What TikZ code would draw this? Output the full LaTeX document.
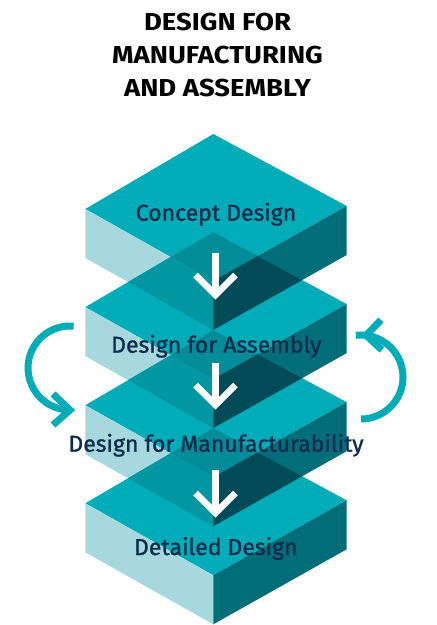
\documentclass[tikz,border=0pt]{standalone}
\usepackage{fontspec}
\setmainfont{Fira Sans}
\newfontfamily\labelfont[FakeBold=1.1]{Fira Sans}
\usetikzlibrary{calc}
\definecolor{cTop}{HTML}{00ACB8}
\definecolor{cLeft}{HTML}{A6D8DE}
\definecolor{cRight}{HTML}{006E78}
\definecolor{cTT}{HTML}{008C99}
\definecolor{cLT}{HTML}{0096A2}
\definecolor{cRT}{HTML}{004B57}
\definecolor{cText}{HTML}{0D2C4C}
\tikzset{
  topface/.style={fill=cTop},
  leftface/.style={fill=cLeft},
  rightface/.style={fill=cRight},
  warrow/.style={draw=white, line width=6.5pt},
  tarrow/.style={draw=cTop, line width=7pt},
  label/.style={text=cText, font=\labelfont\fontsize{23}{26}\selectfont, anchor=base, inner sep=0pt},
  titletext/.style={text=black, font=\bfseries\fontsize{24.5}{28}\selectfont, anchor=base, inner sep=0pt, xscale=1.12}
}
\begin{document}
\begin{tikzpicture}[x=1pt, y=-1pt]
\useasboundingbox (0,0) rectangle (437,625);
% slab coordinates
\foreach \i in {1,...,4} {
  \pgfmathsetmacro\dy{98.1*(\i-1)}
  \coordinate (s\i T) at (213.3, 134+\dy);
  \coordinate (s\i L) at (85.3, 209+\dy);
  \coordinate (s\i R) at (346.7, 206+\dy);
  \coordinate (s\i B) at (213.3, 281+\dy);
  \coordinate (s\i Lb) at (85.3, 258+\dy);
  \coordinate (s\i Rb) at (346.7, 255+\dy);
  \coordinate (s\i Bb) at (213.3, 330+\dy);
}
% base faces
\foreach \i in {1,...,4} {
  \fill[topface] (s\i T) -- (s\i L) -- (s\i B) -- (s\i R) -- cycle;
  \fill[leftface] (s\i L) -- (s\i B) -- (s\i Bb) -- (s\i Lb) -- cycle;
  \fill[rightface] (s\i B) -- (s\i R) -- (s\i Rb) -- (s\i Bb) -- cycle;
}
% overlaps of a slab with the top face of the slab below
\foreach \i/\j in {1/2,2/3,3/4} {
  \begin{scope}
    \clip (s\j T) -- (s\j L) -- (s\j B) -- (s\j R) -- cycle;
    \fill[cTT] (s\i T) -- (s\i L) -- (s\i B) -- (s\i R) -- cycle;
    \fill[cLT] (s\i L) -- (s\i B) -- (s\i Bb) -- (s\i Lb) -- cycle;
    \fill[cRT] (s\i B) -- (s\i R) -- (s\i Rb) -- (s\i Bb) -- cycle;
  \end{scope}
}
% title
\node[titletext] (t1) at (217.5,30) {DESIGN FOR};
\node[titletext] (t2) at (217.5,63.3) {MANUFACTURING};
\node[titletext] (t3) at (217.5,96.7) {AND ASSEMBLY};
% white arrows
\foreach \k/\ys/\yt in {1/252.7/295, 2/363/405, 3/470/513} {
  \coordinate (a\k s) at (215.5,\ys);
  \coordinate (a\k t) at (215.5,\yt);
  \coordinate (a\k l) at (195.5,\yt-20);
  \coordinate (a\k r) at (235.5,\yt-20);
  \draw[warrow] (a\k s) -- (a\k t);
  \draw[warrow, line join=miter] (a\k l) -- (a\k t) -- (a\k r);
}
% labels
\node[label] (l1) at (216,220.7) {Concept Design};
\node[label] (l2) at (216.3,352.7) {Design for Assembly};
\node[label] (l3) at (216,451.7) {Design for Manufacturability};
\node[label] (l4) at (215.8,555) {Detailed Design};
% curved arrows
\coordinate (clS) at (73.66,326.16);
\coordinate (clV) at (70,410);
\coordinate (clA) at (53,394);
\coordinate (clB) at (53,425);
\draw[tarrow] (clS) arc[start angle=275, end angle=90, radius=42];
\draw[tarrow, line join=miter] (clA) -- (clV) -- (clB);
\coordinate (crS) at (361,419);
\coordinate (crV) at (366.1,335.3);
\coordinate (crA) at (381,320);
\coordinate (crB) at (382,350);
\draw[tarrow] (crS) arc[start angle=90, end angle=-97, radius=42];
\draw[tarrow, line join=miter] (crA) -- (crV) -- (crB);
\end{tikzpicture}
\end{document}
